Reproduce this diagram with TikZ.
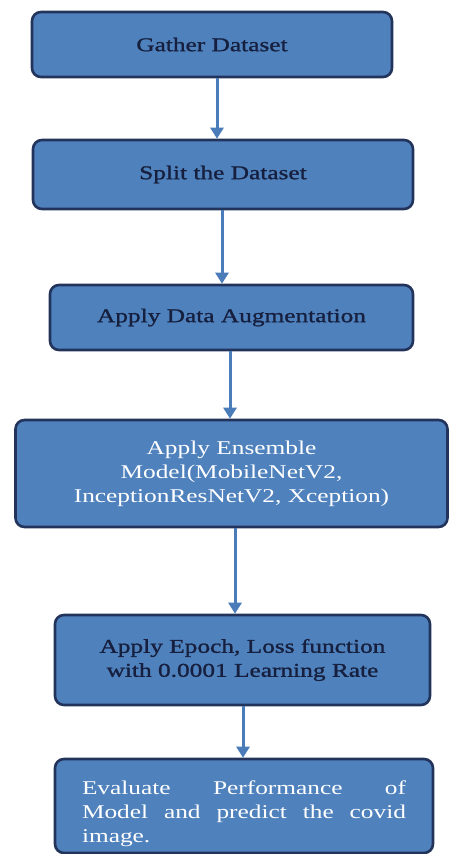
\documentclass[tikz,border=0pt]{standalone}
\usepackage{fontspec}
\setmainfont{Liberation Serif}
\newfontfamily\darkfont[FakeStretch=1.3,FakeBold=1.2]{Liberation Serif}
\newfontfamily\lightfont[FakeStretch=1.3]{Liberation Serif}
\usetikzlibrary{arrows.meta}
\definecolor{boxfill}{RGB}{79,129,189}
\definecolor{boxline}{RGB}{34,52,92}
\definecolor{darktxt}{RGB}{22,32,62}
\definecolor{arrowc}{RGB}{74,124,186}
\tikzset{
  stepbox/.style={draw=boxline, line width=2.6pt, fill=boxfill, rounded corners=9pt,
    align=center, inner sep=0pt},
  dark/.style={text=darktxt, font=\darkfont\fontsize{19.5}{24}\selectfont},
  light/.style={text=white, font=\lightfont\fontsize{19.5}{24}\selectfont},
  flowarrow/.style={draw=arrowc, line width=3pt,
    -{Triangle[width=13pt,length=11pt]}}
}
\begin{document}
\begin{tikzpicture}[x=1pt,y=-1pt]
\useasboundingbox (0,0) rectangle (450,854);
\node[stepbox,dark,minimum width=360pt,minimum height=65pt] (b1) at (212,44.5) {Gather Dataset};
\node[stepbox,dark,minimum width=380pt,minimum height=69pt] (b2) at (223,174.5) {Split the Dataset};
\node[stepbox,dark,minimum width=363pt,minimum height=65pt] (b3) at (231.5,317.5) {Apply Data Augmentation};
\node[stepbox,light,minimum width=432pt,minimum height=107pt] (b4) at (231.5,473.5) {Apply Ensemble\\Model(MobileNetV2,\\InceptionResNetV2, Xception)};
\node[stepbox,dark,minimum width=375pt,minimum height=90pt] (b5) at (242.5,660) {Apply Epoch, Loss function\\with 0.0001 Learning Rate};
\node[stepbox,light,minimum width=378pt,minimum height=94pt,align=left,text width=324pt] (b6) at (244,806) {\rule{0pt}{29pt}Evaluate\hfill Performance\hfill of\\Model\hfill and\hfill predict\hfill the\hfill covid\\image.};
\draw[flowarrow] ([xshift=5pt]b1.south) -- ([xshift=5pt]b1.south |- b2.north);
\draw[flowarrow] ([xshift=-1pt]b2.south) -- ([xshift=-1pt]b2.south |- b3.north);
\draw[flowarrow] ([xshift=-1.5pt]b3.south) -- ([xshift=-1.5pt]b3.south |- b4.north);
\draw[flowarrow] ([xshift=3.5pt]b4.south) -- ([xshift=3.5pt]b4.south |- b5.north);
\draw[flowarrow] ([xshift=0.5pt]b5.south) -- ([xshift=0.5pt]b5.south |- b6.north);
\end{tikzpicture}
\end{document}
